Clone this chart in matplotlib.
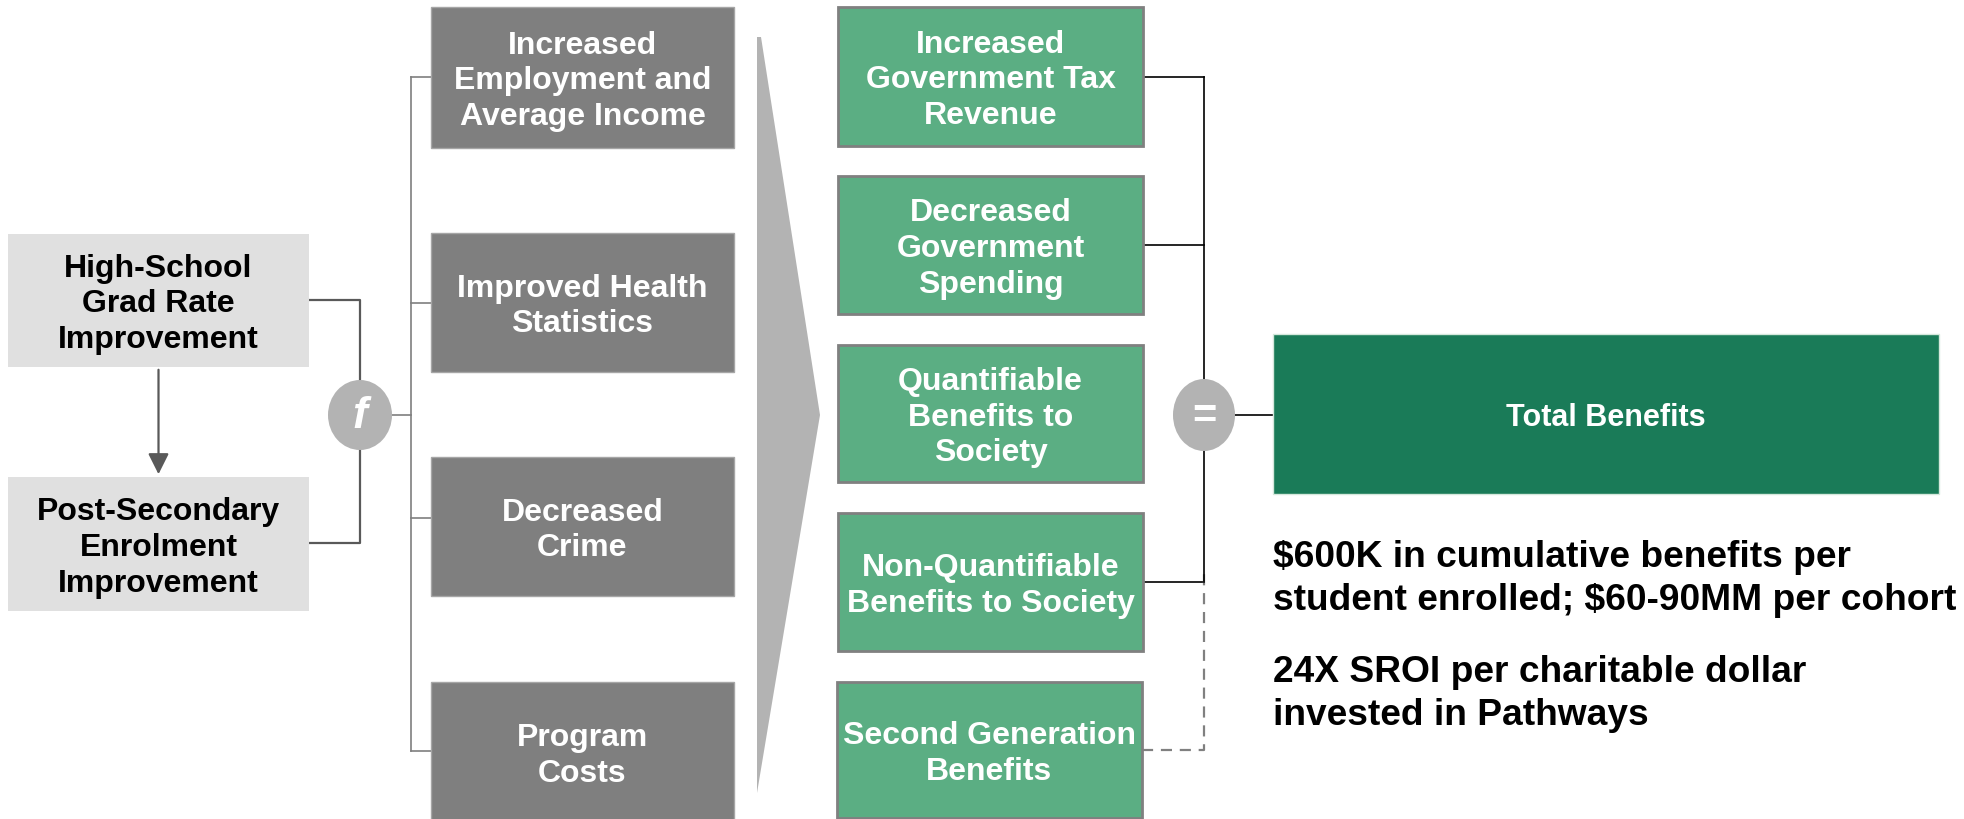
import matplotlib
matplotlib.use("Agg")
import matplotlib.pyplot as plt
from matplotlib.patches import Rectangle, Ellipse, Polygon

plt.rcParams["font.family"] = ["Liberation Sans", "DejaVu Sans"]

# diagram content
drivers = ["High-School\nGrad Rate\nImprovement", "Post-Secondary\nEnrolment\nImprovement"]
outcomes = [
    "Increased\nEmployment and\nAverage Income",
    "Improved Health\nStatistics",
    "Decreased\nCrime",
    "Program\nCosts",
]
benefits = [
    "Increased\nGovernment Tax\nRevenue",
    "Decreased\nGovernment\nSpending",
    "Quantifiable\nBenefits to\nSociety",
    "Non-Quantifiable\nBenefits to Society",
    "Second Generation\nBenefits",
]
# how each benefit box joins the "=" bus
benefit_link = ["solid", "solid", None, "solid", "dashed"]
total_label = "Total Benefits"
notes = [
    "$600K in cumulative benefits per\nstudent enrolled; $60-90MM per cohort",
    "24X SROI per charitable dollar\ninvested in Pathways",
]

# layout (pixel space, y down)
W, H = 1965, 819
driver_x = (8, 309)
driver_y = [(234, 367), (477, 611)]
outcome_x = (431, 734)
outcome_y = [(7, 148), (233, 372), (457, 596), (682, 822)]
outcome_link_y = [77, 303, 518, 751]
benefit_x = [(838, 1143)] * 4 + [(837, 1142)]
benefit_y = [(7, 146), (176, 314), (345, 482), (513, 651), (682, 818)]
benefit_link_y = [77, 245, 414, 582, 750]
total_box = (1273, 334, 1939, 494)
note_y = [579, 694]

LIGHT = "#e0e0e0"
DARK = "#7f7f7f"
GREEN = "#5bae83"
DEEP_GREEN = "#1a7b58"
CIRCLE = "#b3b3b3"
FS = 23
LS = 1.26
TEXT_DY = 4

fig = plt.figure(figsize=(W / 100, H / 100), dpi=100)
ax = fig.add_axes([0, 0, 1, 1])
ax.set_xlim(0, W)
ax.set_ylim(H, 0)
ax.axis("off")


def box(x0, x1, y0, y1, label, fc, tc, ec="none", lw=0, fs=FS, ls=LS):
    ax.add_patch(Rectangle((x0, y0), x1 - x0, y1 - y0, facecolor=fc,
                           edgecolor=ec, linewidth=lw, zorder=2))
    ax.text((x0 + x1) / 2, (y0 + y1) / 2 + TEXT_DY, label, ha="center", va="center",
            color=tc, fontsize=fs, fontweight="bold", linespacing=ls,
            multialignment="center", zorder=3, parse_math=False)


# drivers
for (y0, y1), lab in zip(driver_y, drivers):
    box(driver_x[0], driver_x[1], y0, y1, lab, LIGHT, "black")
mid_x = (driver_x[0] + driver_x[1]) / 2
ax.annotate("", xy=(mid_x, driver_y[1][0]), xytext=(mid_x, driver_y[0][1]),
            arrowprops=dict(arrowstyle="-|>,head_width=0.35,head_length=0.7",
                            color="#595959", lw=1.6, mutation_scale=18))

# f circle and links
fx, fy = 360, 415
ax.plot([driver_x[1], fx, fx], [300, 300, fy], color="#595959", lw=1.6, zorder=1)
ax.plot([driver_x[1], fx, fx], [543, 543, fy], color="#595959", lw=1.6, zorder=1)
ax.add_patch(Ellipse((fx, fy), 64, 70, facecolor=CIRCLE, edgecolor="none", zorder=3))
ax.text(fx, fy + 2, "f", ha="center", va="center", color="white", fontsize=32,
        fontweight="bold", fontstyle="italic", zorder=4)

# outcomes
bus_x = 411
ax.plot([fx, bus_x], [fy, fy], color=DARK, lw=1.2, zorder=1)
ax.plot([bus_x, bus_x], [outcome_link_y[0], outcome_link_y[-1]], color=DARK, lw=1.2, zorder=1)
for (y0, y1), ly, lab in zip(outcome_y, outcome_link_y, outcomes):
    ax.plot([bus_x, outcome_x[0]], [ly, ly], color=DARK, lw=1.2, zorder=1)
    box(outcome_x[0], outcome_x[1], y0, y1, lab, DARK, "white", ec="#a6a6a6", lw=1)

# wedge
ax.add_patch(Polygon([(757, 37), (761, 37), (820, 415), (757, 793)],
                     closed=True, facecolor=CIRCLE, edgecolor="none", zorder=1))

# benefits
ex, ey = 1204, 415
for (x0, x1), (y0, y1), ly, lab, link in zip(benefit_x, benefit_y, benefit_link_y,
                                             benefits, benefit_link):
    box(x0, x1, y0, y1, lab, GREEN, "white", ec="#808080", lw=2)
    if link == "dashed":
        ax.plot([x1, ex, ex], [ly, ly, 567], color="#808080", lw=1.6,
                dashes=(5, 3.5), zorder=1)
    elif link == "solid":
        ax.plot([x1, ex], [ly, ly], color="black", lw=1.2, zorder=1)
ax.plot([ex, ex], [benefit_link_y[0], benefit_link_y[3]], color="black", lw=1.2, zorder=1)
ax.add_patch(Ellipse((ex, ey), 62, 72, facecolor=CIRCLE, edgecolor="none", zorder=3))
ax.text(ex, ey + 2, "=", ha="center", va="center", color="white", fontsize=30,
        fontweight="bold", zorder=4)
ax.plot([ex, total_box[0]], [ey, ey], color="black", lw=1.2, zorder=1)

# total
tx0, ty0, tx1, ty1 = total_box
box(tx0, tx1, ty0, ty1, total_label, DEEP_GREEN, "white", ec="#d5e8dc", lw=1, fs=22)

for ny, txt in zip(note_y, notes):
    ax.text(tx0, ny, txt, ha="left", va="center", fontsize=26.7, fontweight="bold",
            color="black", linespacing=1.33, parse_math=False)

fig.savefig("out.png", dpi=100)
